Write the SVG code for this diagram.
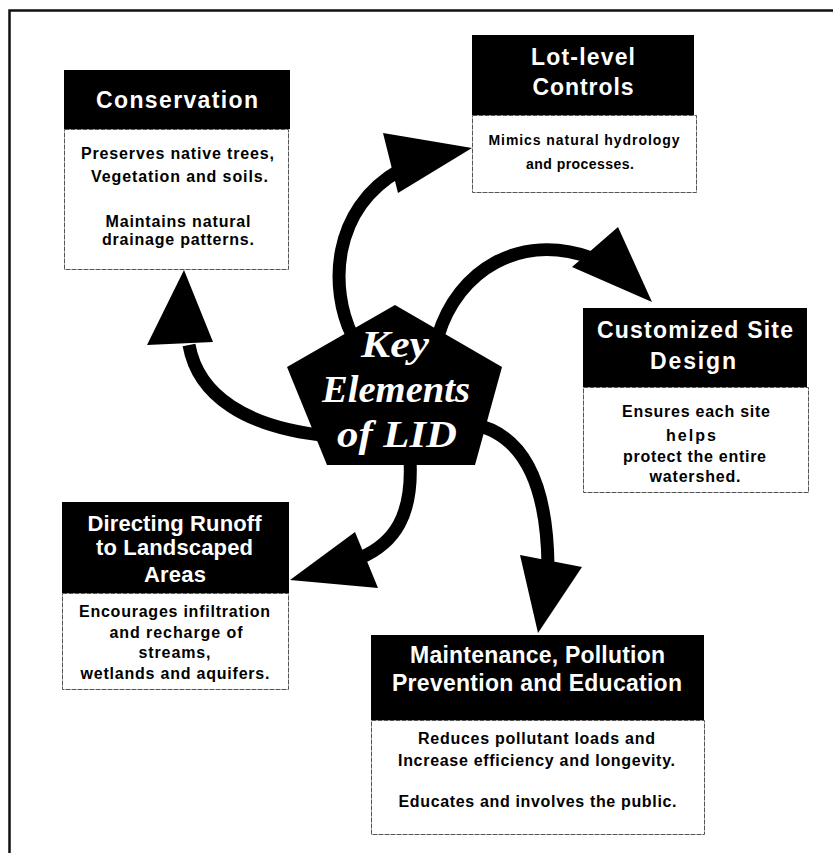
<svg xmlns="http://www.w3.org/2000/svg" width="833" height="853" viewBox="0 0 833 853">
<style>
.hdr{fill:#000}
.body{fill:#fff;stroke:#555;stroke-width:1;stroke-dasharray:5 1}
.ht{font-family:"Liberation Sans",Arial,sans-serif;font-weight:bold;font-size:23px;fill:#fff;text-anchor:middle}
.bt{font-family:"Liberation Sans",Arial,sans-serif;font-weight:bold;font-size:16px;fill:#000;text-anchor:middle}
.sm{font-size:14px}
.h22{font-size:22px}
.shaft{fill:none;stroke:#000;stroke-width:13}
.head{fill:#000}
.key{font-family:"Liberation Serif","Times New Roman",serif;font-weight:bold;font-style:italic;font-size:38px;fill:#fff;text-anchor:middle}
</style>
<rect width="833" height="853" fill="#fff"/>
<path d="M9.5 853 V10.5 H833" fill="none" stroke="#111" stroke-width="2.5"/>

<g id="connectors">
  <path class="shaft" d="M330 436 C245 428 198 395 189 345"/>
  <polygon class="head" points="184,270 147,345 213,342"/>
  <path class="shaft" d="M352 335 C330 290 330 210 400 170"/>
  <polygon class="head" points="472,148 383,133 398,193"/>
  <path class="shaft" d="M438 336 C458 270 520 232 592 258"/>
  <polygon class="head" points="652,302 618,227 572,267"/>
  <path class="shaft" d="M410 460 C413 515 395 543 360 558"/>
  <polygon class="head" points="290,580 355,532 378,588"/>
  <path class="shaft" d="M472 424 C515 432 547 470 548 566"/>
  <polygon class="head" points="538,633 520,555 582,567"/>
</g>

<g id="center">
  <polygon points="395,305 502,367 475,465 327,465 287,367" fill="#000"/>
  <text class="key" x="395" y="357" textLength="68" lengthAdjust="spacingAndGlyphs">Key</text>
  <text class="key" x="396" y="402" textLength="148" lengthAdjust="spacingAndGlyphs">Elements</text>
  <text class="key" x="397" y="447" textLength="120" lengthAdjust="spacingAndGlyphs">of LID</text>
</g>

<g id="conservation">
  <rect class="body" x="64.5" y="129.5" width="224" height="140"/>
  <rect class="hdr" x="64" y="70" width="226" height="59"/>
  <text class="ht" x="177" y="108" textLength="162" lengthAdjust="spacing">Conservation</text>
  <text class="bt" x="177.5" y="159" textLength="193" lengthAdjust="spacing">Preserves native trees,</text>
  <text class="bt" x="179.5" y="182" textLength="177" lengthAdjust="spacing">Vegetation and soils.</text>
  <text class="bt" x="178" y="227" textLength="145" lengthAdjust="spacing">Maintains natural</text>
  <text class="bt" x="178" y="245" textLength="152" lengthAdjust="spacing">drainage patterns.</text>
</g>

<g id="lot-level">
  <rect class="body" x="472.5" y="115.5" width="224" height="77"/>
  <rect class="hdr" x="472" y="35" width="222" height="80"/>
  <text class="ht" x="583" y="65" textLength="104" lengthAdjust="spacing">Lot-level</text>
  <text class="ht" x="583" y="95" textLength="101" lengthAdjust="spacing">Controls</text>
  <text class="bt sm" x="584" y="145" textLength="191" lengthAdjust="spacing">Mimics natural hydrology</text>
  <text class="bt sm" x="580" y="169" textLength="108" lengthAdjust="spacing">and processes.</text>
</g>

<g id="customized">
  <rect class="body" x="583.5" y="387.5" width="225" height="105"/>
  <rect class="hdr" x="583" y="308" width="224" height="79"/>
  <text class="ht" x="695" y="338" textLength="196" lengthAdjust="spacing">Customized Site</text>
  <text class="ht" x="693" y="369" textLength="86" lengthAdjust="spacing">Design</text>
  <text class="bt" x="696" y="417" textLength="148" lengthAdjust="spacing">Ensures each site</text>
  <text class="bt" x="691" y="441" textLength="50" lengthAdjust="spacing">helps</text>
  <text class="bt" x="694.5" y="462" textLength="143" lengthAdjust="spacing">protect the entire</text>
  <text class="bt" x="695" y="482" textLength="91" lengthAdjust="spacing">watershed.</text>
</g>

<g id="directing">
  <rect class="body" x="62.5" y="593.5" width="226" height="96"/>
  <rect class="hdr" x="62" y="502" width="227" height="91"/>
  <text class="ht h22" x="174.5" y="531" textLength="174" lengthAdjust="spacing">Directing Runoff</text>
  <text class="ht h22" x="174.5" y="555" textLength="157" lengthAdjust="spacing">to Landscaped</text>
  <text class="ht h22" x="175" y="582" textLength="62" lengthAdjust="spacing">Areas</text>
  <text class="bt" x="174.5" y="617" textLength="191" lengthAdjust="spacing">Encourages infiltration</text>
  <text class="bt" x="176" y="638" textLength="133" lengthAdjust="spacing">and recharge of</text>
  <text class="bt" x="174.5" y="658" textLength="72" lengthAdjust="spacing">streams,</text>
  <text class="bt" x="175" y="679" textLength="189" lengthAdjust="spacing">wetlands and aquifers.</text>
</g>

<g id="maintenance">
  <rect class="body" x="371.5" y="720.5" width="333" height="114"/>
  <rect class="hdr" x="371" y="635" width="333" height="85"/>
  <text class="ht" x="537.5" y="663" textLength="255" lengthAdjust="spacing">Maintenance, Pollution</text>
  <text class="ht" x="537" y="691" textLength="290" lengthAdjust="spacing">Prevention and Education</text>
  <text class="bt" x="536.5" y="744" textLength="237" lengthAdjust="spacing">Reduces pollutant loads and</text>
  <text class="bt" x="536.5" y="766" textLength="277" lengthAdjust="spacing">Increase efficiency and longevity.</text>
  <text class="bt" x="537.5" y="807" textLength="278" lengthAdjust="spacing">Educates and involves the public.</text>
</g>
</svg>
